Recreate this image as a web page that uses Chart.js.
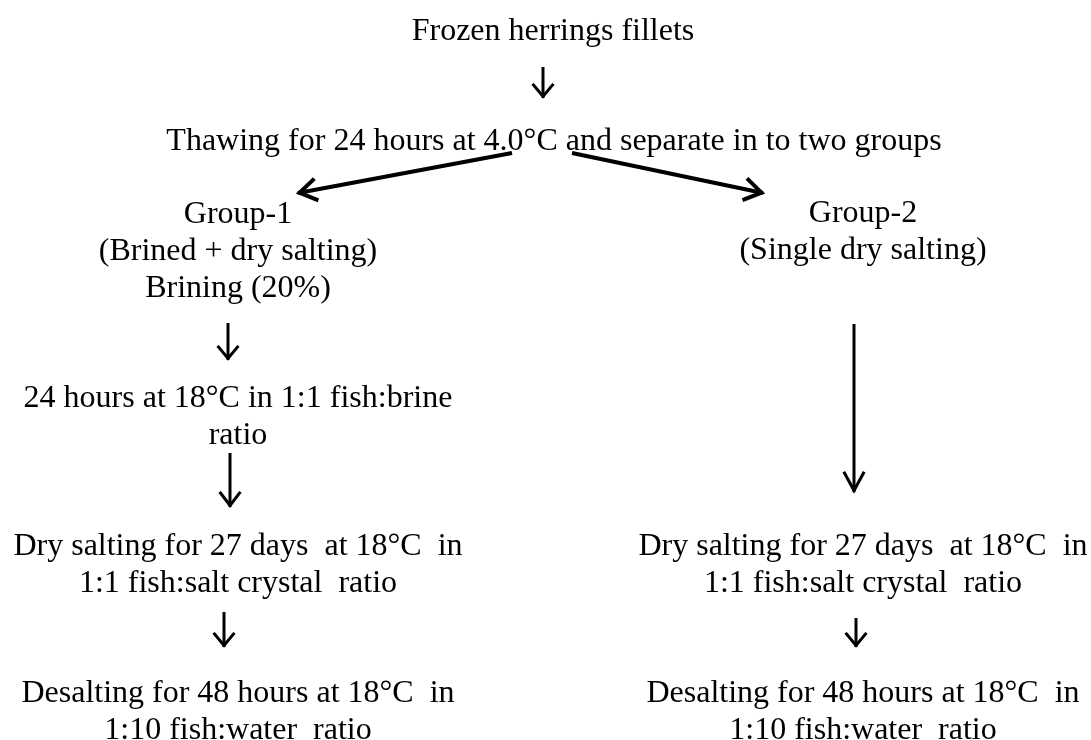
<!DOCTYPE html>
<html>
<head>
<meta charset="utf-8">
<title>Herring salting flowchart</title>
<script src="https://cdn.jsdelivr.net/npm/chart.js@4/dist/chart.umd.min.js"></script>
<style>
  html, body { margin: 0; padding: 0; background: #fff; }
  #wrap { width: 1091px; height: 740px; position: relative; }
</style>
</head>
<body>
<div id="wrap"><canvas id="flow"></canvas></div>
<script>
// step texts (one array per box, one entry per line)
const startLabels  = ['Frozen herrings fillets'];
const thawLabels   = ['Thawing for 24 hours at 4.0°C and separate in to two groups'];
const group1Header = ['Group-1', '(Brined + dry salting)', 'Brining (20%)'];
const group2Header = ['Group-2', '(Single dry salting)'];
const brineLabels  = ['24 hours at 18°C in 1:1 fish:brine', 'ratio'];
const drySaltLabels = ['Dry salting for 27 days  at 18°C  in', '1:1 fish:salt crystal  ratio'];
const desaltLabels  = ['Desalting for 48 hours at 18°C  in', '1:10 fish:water  ratio'];

// layout: where each box sits (centre x, first baseline y) in canvas units
const boxes = [
    { lines: startLabels,   x: 553, y: 40 },
    { lines: thawLabels,    x: 554, y: 150 },
    { lines: group1Header,  x: 238, y: 223 },
    { lines: group2Header,  x: 863, y: 222 },
    { lines: brineLabels,   x: 238, y: 407 },
    { lines: drySaltLabels, x: 238, y: 555 },
    { lines: drySaltLabels, x: 863, y: 555 },
    { lines: desaltLabels,  x: 238, y: 702 },
    { lines: desaltLabels,  x: 863, y: 702 }
];

// layout: arrows (from -> to), width and head size
const arrows = [
    { from: [543, 67],  to: [543, 98],  w: 3, head: 13, headW: 9.5 },
    { from: [512, 153], to: [298, 193], w: 4, head: 17, headW: 10 },
    { from: [572, 153], to: [763, 193], w: 4, head: 17, headW: 10 },
    { from: [228, 323], to: [228, 360], w: 3, head: 13, headW: 9.5 },
    { from: [230, 453], to: [230, 507], w: 3, head: 14, headW: 9.5 },
    { from: [224, 612], to: [224, 647], w: 3, head: 13, headW: 9.5 },
    { from: [854, 324], to: [854, 492], w: 3, head: 19, headW: 9.5 },
    { from: [856, 618], to: [856, 647], w: 3, head: 13, headW: 9.5 }
];

const LINE_GAP = 37;
const FONT = '32px "Liberation Serif", "Times New Roman", serif';

const arrowSets = arrows.map(a => ({
    type: 'line',
    data: [{ x: a.from[0], y: a.from[1] }, { x: a.to[0], y: a.to[1] }],
    borderColor: '#000',
    borderWidth: a.w,
    borderCapStyle: 'butt',
    pointRadius: 0,
    showLine: true,
    fill: false,
    head: a.head,
    headW: a.headW
}));

const textAnchors = {
    type: 'scatter',
    data: boxes.map(b => ({ x: b.x, y: b.y })),
    pointRadius: 0,
    isText: true
};

// arrow heads: open V at the end of each arrow line
const arrowHeads = {
    id: 'arrowHeads',
    afterDatasetsDraw(chart) {
        const ctx = chart.ctx;
        chart.data.datasets.forEach((ds, i) => {
            if (!ds.head) return;
            const pts = chart.getDatasetMeta(i).data;
            const p0 = pts[0], p1 = pts[1];
            const dx = p1.x - p0.x, dy = p1.y - p0.y;
            const len = Math.hypot(dx, dy);
            const ux = dx / len, uy = dy / len;
            const L = ds.head, W = ds.headW;
            const bx = p1.x - ux * L, by = p1.y - uy * L;
            ctx.save();
            ctx.strokeStyle = ds.borderColor;
            ctx.lineWidth = ds.borderWidth;
            ctx.lineCap = 'square';
            ctx.lineJoin = 'miter';
            ctx.beginPath();
            ctx.moveTo(bx - uy * W, by + ux * W);
            ctx.lineTo(p1.x - ux * 1.5, p1.y - uy * 1.5);
            ctx.lineTo(bx + uy * W, by - ux * W);
            ctx.stroke();
            ctx.restore();
        });
    }
};

// step texts drawn at the anchor points
const boxTexts = {
    id: 'boxTexts',
    afterDatasetsDraw(chart) {
        const ctx = chart.ctx;
        const idx = chart.data.datasets.findIndex(d => d.isText);
        const pts = chart.getDatasetMeta(idx).data;
        const ys = chart.scales.y;
        ctx.save();
        ctx.font = FONT;
        ctx.fillStyle = '#000';
        ctx.textAlign = 'center';
        ctx.textBaseline = 'alphabetic';
        boxes.forEach((b, i) => {
            const p = pts[i];
            b.lines.forEach((line, k) => {
                const y = ys.getPixelForValue(b.y + k * LINE_GAP);
                ctx.fillText(line, p.x, y);
            });
        });
        ctx.restore();
    }
};

new Chart(document.getElementById('flow'), {
    type: 'scatter',
    data: { datasets: [...arrowSets, textAnchors] },
    options: {
        responsive: true,
        maintainAspectRatio: false,
        animation: false,
        events: [],
        layout: { padding: 0 },
        plugins: { legend: { display: false }, tooltip: { enabled: false } },
        scales: {
            x: { type: 'linear', min: 0, max: 1091, display: false },
            y: { type: 'linear', min: 0, max: 740, reverse: true, display: false }
        }
    },
    plugins: [arrowHeads, boxTexts]
});
</script>
</body>
</html>
